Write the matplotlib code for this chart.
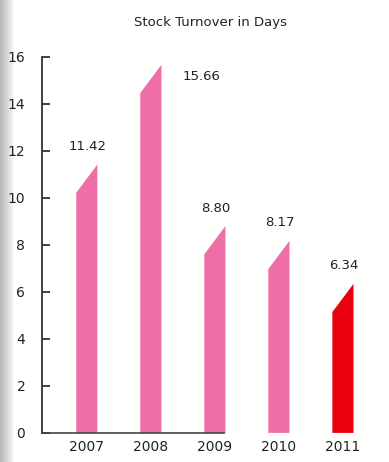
import numpy as np
import matplotlib.pyplot as plt

years = ["2007", "2008", "2009", "2010", "2011"]
turnover_days = [11.42, 15.66, 8.80, 8.17, 6.34]
bar_colors = ["#f06ea8", "#f06ea8", "#f06ea8", "#f06ea8", "#e8000e"]
y_ticks = [0, 2, 4, 6, 8, 10, 12, 14, 16]

fig = plt.figure(figsize=(3.89, 4.62), dpi=100)
fig.patch.set_facecolor("#f7f7f5")

# scanned page edge shading on the left
bg = fig.add_axes([0, 0, 1, 1], zorder=-1)
shade = np.ones((1, 389))
shade[0, :14] = np.linspace(0.72, 0.97, 14)
bg.imshow(np.dstack([shade, shade, shade * 0.995]), aspect="auto",
          extent=[0, 1, 0, 1], vmin=0, vmax=1)
bg.axis("off")

ax = fig.add_axes([0.108, 0.063, 0.869, 0.814])
ax.patch.set_alpha(0)

x = np.arange(len(years))
w = 0.33
drop = 1.2
for xi, v, c in zip(x, turnover_days, bar_colors):
    ax.fill([xi - w / 2, xi + w / 2, xi + w / 2, xi - w / 2],
            [0, 0, v, v - drop], color=c, lw=0)

for xi, v in zip(x, turnover_days):
    if v > 15:
        ax.annotate(f"{v:.2f}", (xi, v), xytext=(51, -12),
                    textcoords="offset pixels", ha="center", va="center",
                    fontsize=9.5, color="#222222")
    else:
        ax.annotate(f"{v:.2f}", (xi, v), xytext=(1, 18),
                    textcoords="offset pixels", ha="center", va="center",
                    fontsize=9.5, color="#222222")

ax.set_xlim(-0.70, 4.58)
ax.set_ylim(0, 16)
ax.set_yticks(y_ticks)
ax.set_xticks(x)
ax.set_xticklabels(years)
ax.tick_params(axis="y", direction="in", length=6, width=1.2, pad=12,
               labelsize=10, colors="#222222")
ax.tick_params(axis="x", length=0, pad=5, labelsize=10, colors="#222222")

for s in ["top", "right"]:
    ax.spines[s].set_visible(False)
ax.spines["left"].set_linewidth(1.3)
ax.spines["left"].set_color("#333333")
ax.spines["bottom"].set_linewidth(1.2)
ax.spines["bottom"].set_color("#444444")
ax.spines["bottom"].set_bounds(-0.70, 2.15)

fig.text(0.54, 0.952, "Stock Turnover in Days", ha="center", va="center",
         fontsize=9.5, color="#222222")

fig.savefig("out.png", dpi=100)
